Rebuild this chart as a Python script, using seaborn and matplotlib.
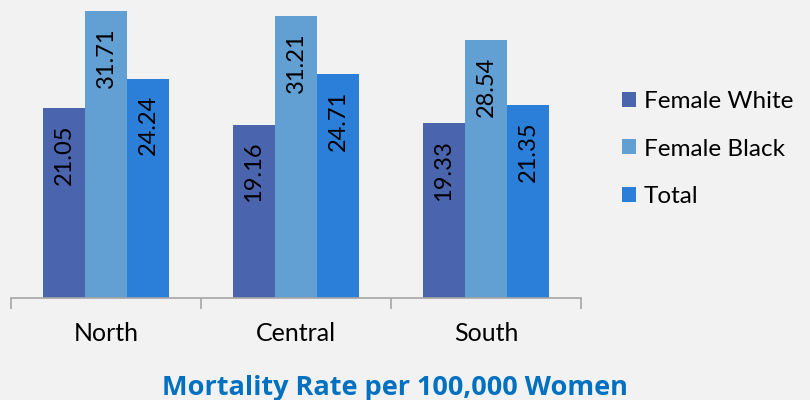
import pandas as pd
import matplotlib.pyplot as plt
import seaborn as sns
from matplotlib.ticker import FixedLocator

sns.set_theme(style="white")
plt.rcParams['font.family'] = ['Lato', 'DejaVu Sans']

regions = ['North', 'Central', 'South']
series = ['Female White', 'Female Black', 'Total']
female_white = [21.05, 19.16, 19.33]
female_black = [31.71, 31.21, 28.54]
total = [24.24, 24.71, 21.35]
colors = ['#4A65AE', '#629FD2', '#2B7FD8']

rows = []
for name, vals in zip(series, [female_white, female_black, total]):
    for r, v in zip(regions, vals):
        rows.append({'Region': r, 'Group': name, 'Rate': v})
df = pd.DataFrame(rows)

bg = '#F2F2F2'
fig = plt.figure(figsize=(8.1, 4), dpi=100, facecolor=bg)
ax = fig.add_axes([11 / 810, 102 / 400, 570 / 810, 298 / 400])
ax.set_facecolor(bg)

sns.barplot(data=df, x='Region', y='Rate', hue='Group', palette=colors,
            width=0.663, saturation=1, gap=0, linewidth=0, ax=ax, legend=True)

# value labels, rotated, inside the top of each bar
for cont in ax.containers:
    for bar in cont:
        h = bar.get_height()
        ax.annotate(f'{h:.2f}', (bar.get_x() + bar.get_width() / 2, h),
                    xytext=(0, -12), textcoords='offset points',
                    rotation=90, ha='center', va='top', fontsize=17, color='black')

ax.set_xlim(-0.5, 2.5)
ax.set_ylim(0, 32.93)
ax.set_xlabel('')
ax.set_ylabel('')
ax.set_yticks([])
for s in ['top', 'right', 'left']:
    ax.spines[s].set_visible(False)
ax.spines['bottom'].set_color('#A6A6A6')
ax.spines['bottom'].set_linewidth(1.2)

ax.tick_params(axis='x', which='major', bottom=False, length=0, labelsize=18,
               labelcolor='black', pad=17)
ax.xaxis.set_minor_locator(FixedLocator([-0.5, 0.5, 1.5, 2.5]))
ax.tick_params(axis='x', which='minor', bottom=True, length=8, width=1.2,
               color='#A6A6A6', direction='out')

leg = ax.legend(loc='center left', bbox_to_anchor=(622 / 810, 1 - 149 / 400),
                bbox_transform=fig.transFigure, frameon=False, fontsize=17.5,
                handlelength=0.58, handleheight=0.58, handletextpad=0.32,
                labelspacing=1.08, borderpad=0, borderaxespad=0)
for t in leg.get_texts():
    t.set_color('black')

fig.text(395 / 810, 1 - 395 / 400, 'Mortality Rate per 100,000 Women',
         ha='center', va='baseline', fontsize=19.5, fontweight='bold',
         color='#0070C0', family=['Open Sans', 'DejaVu Sans'])

fig.savefig('out.png', dpi=100, facecolor=bg)
